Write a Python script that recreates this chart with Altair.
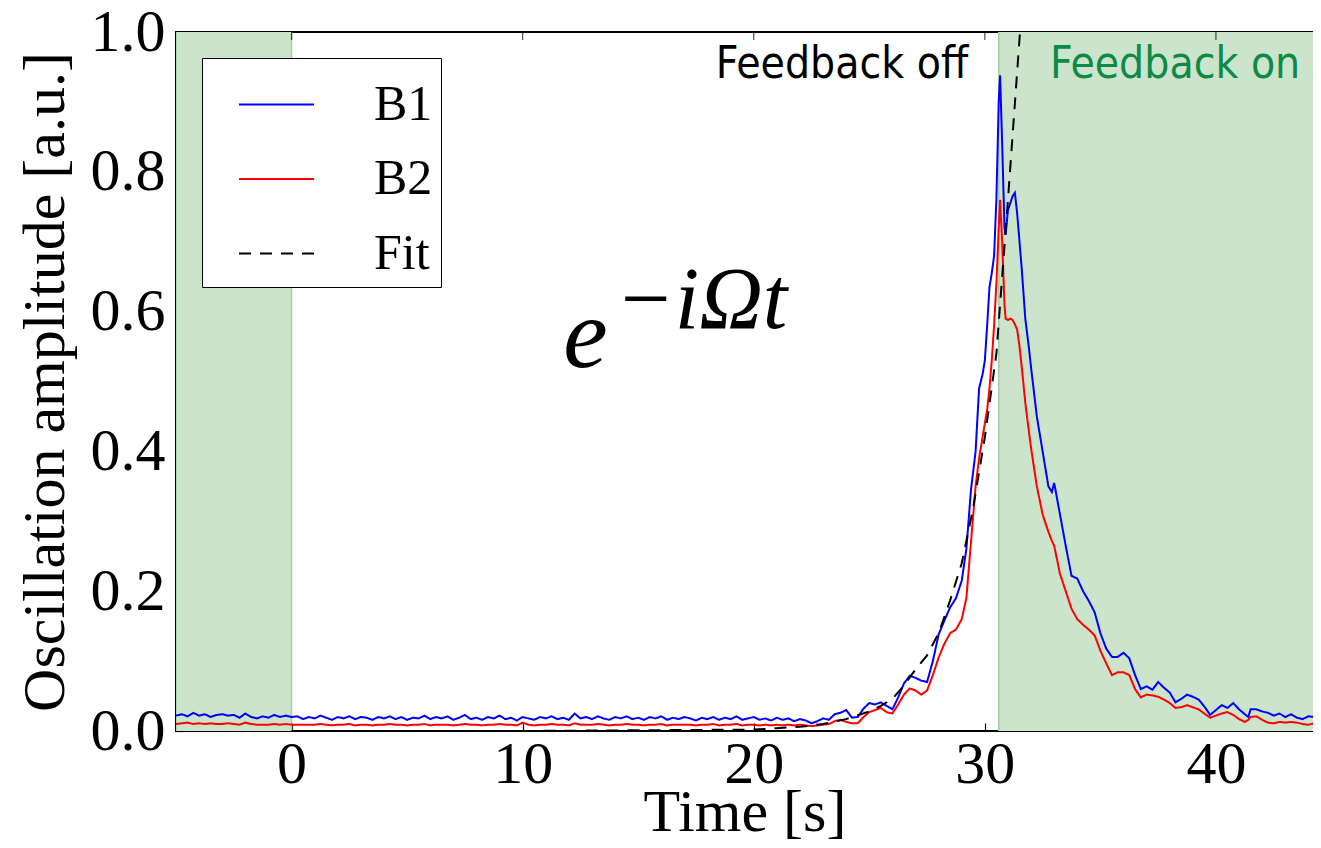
import altair as alt
import pandas as pd

# ---------------- data ----------------
# uniform baseline grid, -5 s .. 24.75 s every 0.25 s
T_BASE = [round(-5 + 0.25 * i, 2) for i in range(120)]

B1_BASE = [
    0.022, 0.024, 0.021, 0.026, 0.022, 0.024, 0.020, 0.023,
    0.024, 0.022, 0.023, 0.019, 0.025, 0.020, 0.018, 0.021,
    0.019, 0.023, 0.020, 0.022, 0.020, 0.021, 0.017, 0.020,
    0.018, 0.022, 0.019, 0.016, 0.020, 0.018, 0.021, 0.017,
    0.020, 0.019, 0.016, 0.020, 0.018, 0.021, 0.017, 0.020,
    0.016, 0.019, 0.018, 0.022, 0.017, 0.020, 0.018, 0.021,
    0.016, 0.019, 0.023, 0.017, 0.019, 0.016, 0.020, 0.018,
    0.022, 0.017, 0.019, 0.015, 0.020, 0.018, 0.016, 0.020,
    0.018, 0.021, 0.017, 0.019, 0.016, 0.025, 0.018, 0.020,
    0.017, 0.021, 0.018, 0.016, 0.020, 0.018, 0.021, 0.017,
    0.019, 0.016, 0.020, 0.018, 0.021, 0.016, 0.019, 0.017,
    0.020, 0.018, 0.015, 0.019, 0.017, 0.020, 0.016, 0.019,
    0.017, 0.021, 0.016, 0.018, 0.020, 0.016, 0.018, 0.015,
    0.019, 0.016, 0.018, 0.014, 0.017, 0.015, 0.011, 0.014,
    0.018, 0.016, 0.024, 0.026, 0.030, 0.019, 0.020, 0.032,
]

B2_BASE = [
    0.010, 0.011, 0.012, 0.010, 0.011, 0.010, 0.011, 0.010,
    0.010, 0.011, 0.010, 0.009, 0.012, 0.010, 0.009, 0.009,
    0.009, 0.010, 0.009, 0.010, 0.009, 0.009, 0.009, 0.009,
    0.009, 0.010, 0.009, 0.008, 0.009, 0.009, 0.010, 0.008,
    0.009, 0.009, 0.008, 0.009, 0.009, 0.010, 0.009, 0.009,
    0.008, 0.009, 0.009, 0.010, 0.008, 0.009, 0.009, 0.009,
    0.008, 0.009, 0.010, 0.009, 0.009, 0.008, 0.009, 0.009,
    0.010, 0.009, 0.009, 0.008, 0.012, 0.009, 0.008, 0.009,
    0.009, 0.010, 0.009, 0.009, 0.008, 0.011, 0.009, 0.009,
    0.009, 0.010, 0.009, 0.008, 0.009, 0.009, 0.010, 0.009,
    0.009, 0.008, 0.009, 0.009, 0.010, 0.008, 0.009, 0.009,
    0.009, 0.009, 0.008, 0.009, 0.009, 0.010, 0.008, 0.009,
    0.009, 0.010, 0.008, 0.009, 0.009, 0.008, 0.009, 0.008,
    0.009, 0.008, 0.009, 0.008, 0.009, 0.008, 0.007, 0.008,
    0.009, 0.010, 0.014, 0.016, 0.013, 0.011, 0.011, 0.020,
]

# instability / peak / decay, finer sampling
T_PEAK = [
    25.0, 25.25, 25.5, 25.75, 26.0, 26.25, 26.5, 26.75, 27.0, 27.25, 27.5, 27.75,
    28.0, 28.25, 28.5, 28.75, 29.0, 29.2, 29.4, 29.6, 29.75, 29.9,
    30.0, 30.1, 30.2, 30.3, 30.4, 30.5, 30.6, 30.66, 30.75, 30.85, 30.9,
    31.0, 31.1, 31.2, 31.3, 31.4, 31.5, 31.6, 31.75, 31.9,
    32.0, 32.25, 32.5, 32.75, 32.9,
    33.0, 33.25, 33.5, 33.75, 34.0, 34.25, 34.5, 34.75, 35.0, 35.25, 35.5, 35.75,
    36.0, 36.25, 36.5, 36.75, 37.0, 37.25, 37.5, 37.75, 38.0, 38.25, 38.5, 38.75,
    39.0, 39.25, 39.5, 39.75, 40.0, 40.25, 40.5, 40.75, 41.0, 41.25, 41.4,
    41.5, 41.75, 42.0, 42.25, 42.5, 42.75, 43.0, 43.25, 43.5, 43.75, 44.0, 44.25, 44.5,
]

B1_PEAK = [
    0.040, 0.038, 0.041, 0.036, 0.031, 0.048, 0.068, 0.079, 0.076, 0.072, 0.070, 0.100,
    0.138, 0.158, 0.177, 0.190, 0.215, 0.260, 0.345, 0.400, 0.490, 0.510,
    0.530, 0.580, 0.635, 0.655, 0.680, 0.760, 0.900, 0.938, 0.840, 0.720, 0.710,
    0.745, 0.755, 0.765, 0.770, 0.740, 0.700, 0.660, 0.590, 0.550,
    0.520, 0.450, 0.400, 0.350, 0.342,
    0.355, 0.310, 0.265, 0.222, 0.218, 0.200, 0.186, 0.170, 0.140, 0.118, 0.106, 0.106,
    0.112, 0.104, 0.080, 0.060, 0.064, 0.059, 0.070, 0.062, 0.055, 0.041, 0.046, 0.052,
    0.049, 0.045, 0.035, 0.023, 0.030, 0.037, 0.033, 0.040, 0.031, 0.024, 0.020,
    0.031, 0.031, 0.028, 0.026, 0.022, 0.025, 0.020, 0.024, 0.019, 0.017, 0.021, 0.020, 0.019,
]

B2_PEAK = [
    0.027, 0.030, 0.033, 0.027, 0.025, 0.038, 0.052, 0.061, 0.058, 0.052, 0.058, 0.080,
    0.105, 0.125, 0.140, 0.145, 0.160, 0.190, 0.270, 0.350, 0.390, 0.420,
    0.440, 0.460, 0.490, 0.530, 0.580, 0.640, 0.720, 0.760, 0.700, 0.610, 0.590,
    0.588, 0.590, 0.588, 0.582, 0.574, 0.550, 0.520, 0.470, 0.430,
    0.405, 0.350, 0.310, 0.285, 0.272,
    0.265, 0.225, 0.200, 0.175, 0.160, 0.152, 0.145, 0.137, 0.115, 0.097, 0.080, 0.084,
    0.084, 0.080, 0.060, 0.048, 0.052, 0.051, 0.049, 0.045, 0.040, 0.033, 0.034, 0.037,
    0.034, 0.031, 0.025, 0.019, 0.022, 0.025, 0.027, 0.023, 0.017, 0.013, 0.016,
    0.020, 0.021, 0.016, 0.012, 0.011, 0.013, 0.012, 0.013, 0.012, 0.010, 0.009, 0.011, 0.011,
]

FIT_T = [0, 5, 10, 15, 20, 21, 22, 23, 24, 25, 25.5, 26, 26.5, 27, 27.5, 28,
         28.5, 29, 29.5, 30, 30.5, 31, 31.5, 31.8]
FIT_Y = [0.0, 0.0, 0.0, 0.001, 0.002, 0.004, 0.006, 0.010, 0.017, 0.028, 0.036, 0.046,
         0.065, 0.088, 0.108, 0.140, 0.187, 0.240, 0.320, 0.420, 0.540, 0.760, 0.990, 1.150]

SERIES = ["B1", "B2", "Fit"]
COLORS = ["#0000ff", "#ff0000", "#000000"]
DASHES = [[1, 0], [1, 0], [12, 9]]

SHADE_START = [-5.0, 30.6]
SHADE_END = [0.0, 46.0]

X_TICKS = [0, 10, 20, 30, 40]
Y_TICKS = [0.0, 0.2, 0.4, 0.6, 0.8, 1.0]

# ---------------- tables ----------------
time = T_BASE + T_PEAK
b1 = B1_BASE + B1_PEAK
b2 = B2_BASE + B2_PEAK
assert len(time) == len(b1) == len(b2), (len(time), len(b1), len(b2))
assert len(FIT_T) == len(FIT_Y)

rows = []
for t, v in zip(time, b1):
    rows.append({"t": t, "v": v, "series": "B1"})
for t, v in zip(time, b2):
    rows.append({"t": t, "v": v, "series": "B2"})
for t, v in zip(FIT_T, FIT_Y):
    rows.append({"t": t, "v": v, "series": "Fit"})
df = pd.DataFrame(rows)

shade = pd.DataFrame({"start": SHADE_START, "end": SHADE_END})
top_ticks = pd.DataFrame({"x": X_TICKS})

# ---------------- chart ----------------
SERIF = "Liberation Serif"
NARROW = "Liberation Sans Narrow, Arial Narrow, DejaVu Sans Condensed, sans-serif"

xscale = alt.Scale(domain=[-5, 44.2], nice=False, zero=False)
yscale = alt.Scale(domain=[0, 1], nice=False, zero=False)

x_axis = alt.Axis(values=X_TICKS, format="d", title="Time [s]", offset=-8, tickSize=8,
                  labelPadding=4, titlePadding=-11)
y_axis = alt.Axis(values=Y_TICKS, format=".1f", title="Oscillation amplitude [a.u.]",
                  offset=-8, tickSize=8, labelPadding=11, titlePadding=14)

legend = alt.Legend(title=None, labelExpr="datum.label + '\u00a0'")

shade_layer = alt.Chart(shade).mark_rect(color="#cce4cc", clip=True).encode(
    x=alt.X("start:Q", scale=xscale, axis=x_axis),
    x2="end:Q",
)

edge_left = alt.Chart(shade).mark_rule(color="#a6cea6", strokeWidth=1.5, clip=True).encode(
    x=alt.X("start:Q", scale=xscale, axis=x_axis),
)
edge_right = alt.Chart(shade).mark_rule(color="#a6cea6", strokeWidth=1.5, clip=True).encode(
    x=alt.X("end:Q", scale=xscale, axis=x_axis),
)

lines = alt.Chart(df).mark_line(strokeWidth=2, clip=True).encode(
    x=alt.X("t:Q", scale=xscale, axis=x_axis),
    y=alt.Y("v:Q", scale=yscale, axis=y_axis),
    color=alt.Color("series:N", scale=alt.Scale(domain=SERIES, range=COLORS), legend=legend),
    strokeDash=alt.StrokeDash("series:N", scale=alt.Scale(domain=SERIES, range=DASHES),
                              legend=legend),
)

# inward ticks on the top frame
top_tick_layer = alt.Chart(top_ticks).mark_tick(
    orient="vertical", size=8, thickness=1.2, color="black", yOffset=4
).encode(
    x=alt.X("x:Q", scale=xscale, axis=x_axis),
    y=alt.YDatum(1, scale=yscale, axis=y_axis),
)


def label(text, x, y, **kw):
    return alt.Chart().mark_text(**kw).encode(
        x=alt.XDatum(x, scale=xscale, axis=x_axis),
        y=alt.YDatum(y, scale=yscale, axis=y_axis),
        text=alt.value(text),
    )


fb_off = label("Feedback off", 29.28, 0.934, align="right", baseline="alphabetic",
               font=NARROW, fontSize=44, color="black")
fb_on = label("Feedback on", 32.82, 0.934, align="left", baseline="alphabetic",
              font=NARROW, fontSize=44, color="#0e8a48")
math_e = label("e", 11.76, 0.521, align="left", baseline="alphabetic",
               font=SERIF, fontStyle="italic", fontSize=100, color="black")
math_sup = label("\u2212i\u03a9t", 14.01, 0.577, align="left", baseline="alphabetic",
                 font=SERIF, fontStyle="italic", fontSize=88, color="black")

chart = alt.layer(
    shade_layer, edge_left, edge_right, lines, top_tick_layer,
    fb_off, fb_on, math_e, math_sup
).properties(
    width=1137, height=699,
    padding={"left": 168, "top": 24, "right": 0, "bottom": 109},
    autosize=alt.AutoSizeParams(type="none"),
).configure_view(
    stroke="black", strokeWidth=2
).configure_axis(
    labelFont=SERIF, titleFont=SERIF, labelFontSize=60, titleFontSize=60,
    titleFontWeight="normal", labelColor="black", titleColor="black",
    tickColor="black", tickWidth=1.2, grid=False, domain=False, labelOverlap=False,
).configure_legend(
    orient="none", legendX=26, legendY=26,
    strokeColor="black", fillColor="white", padding=8, cornerRadius=0,
    symbolType="stroke", symbolSize=5625, symbolStrokeWidth=2, symbolOffset=28,
    labelFont=SERIF, labelFontSize=50, labelColor="black", labelOffset=59,
    rowPadding=10.5,
)

chart.save("out.html", embed_options={"renderer": "svg", "actions": False})
